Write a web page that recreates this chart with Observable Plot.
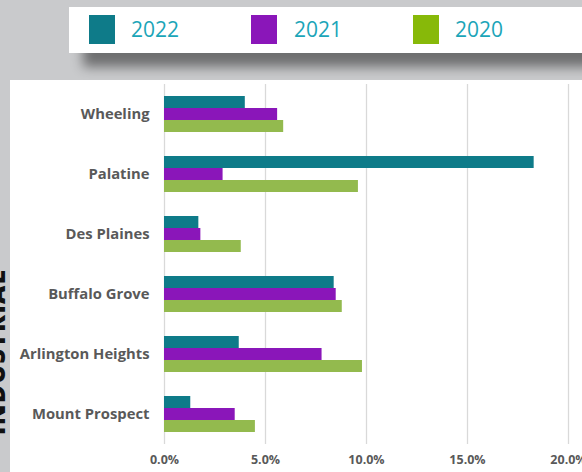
<!DOCTYPE html>
<html>
<head>
<meta charset="utf-8">
<script src="https://cdn.jsdelivr.net/npm/d3@7"></script>
<script src="https://cdn.jsdelivr.net/npm/@observablehq/plot@0.6"></script>
<style>
  html, body { margin: 0; padding: 0; }
  body { width: 582px; height: 472px; background: #c9cacc; position: relative; overflow: hidden; font-family: "Open Sans", sans-serif; }
  #side { position: absolute; left: -5px; top: 352px; transform: translate(-50%, -50%) rotate(-90deg); transform-origin: 50% 50%; font-family: "Open Sans", sans-serif; font-weight: 800; font-size: 25px; line-height: 30px; color: #111; white-space: nowrap; letter-spacing: 1.2px; }
  #legend { position: absolute; left: 69px; top: 7px; width: 540px; height: 46px; background: #fff; box-shadow: 14px 14px 11px rgba(0,0,0,0.45); z-index: 2; }
  .sw { position: absolute; top: 8px; width: 26px; height: 29px; }
  .lab { position: absolute; top: 7px; font-size: 21px; line-height: 30px; color: #1ba5b8; font-weight: 400; }
  #panel { position: absolute; left: 10px; top: 80px; width: 572px; height: 392px; background: #fff; z-index: 1; }
  #panel svg { display: block; }
</style>
</head>
<body>
<div id="side">INDUSTRIAL</div>
<div id="legend"></div>
<div id="panel"></div>
<script>
const cities = ["Wheeling", "Palatine", "Des Plaines", "Buffalo Grove", "Arlington Heights", "Mount Prospect"];
const years = ["2022", "2021", "2020"];
const v2022 = [4.0, 18.3, 1.7, 8.4, 3.7, 1.3];
const v2021 = [5.6, 2.9, 1.8, 8.5, 7.8, 3.5];
const v2020 = [5.9, 9.6, 3.8, 8.8, 9.8, 4.5];
const barColors = ["#0e7b89", "#8a16b9", "#93ba4e"];
const legendColors = ["#0e7b89", "#8a16b9", "#87b909"];
const xTicks = [0, 5, 10, 15, 20];

const series = {"2022": v2022, "2021": v2021, "2020": v2020};
const data = [];
cities.forEach((c, i) => years.forEach(y => data.push({city: c, year: y, value: series[y][i]})));

// legend
const legend = document.getElementById("legend");
const swX = [20, 182, 344];
const labX = [62, 225, 386];
years.forEach((y, i) => {
  const sw = document.createElement("div");
  sw.className = "sw"; sw.style.left = swX[i] + "px"; sw.style.background = legendColors[i];
  legend.appendChild(sw);
  const lb = document.createElement("div");
  lb.className = "lab"; lb.style.left = labX[i] + "px"; lb.textContent = y;
  legend.appendChild(lb);
});

const chart = Plot.plot({
  width: 572,
  height: 392,
  marginLeft: 154,
  marginRight: 14,
  marginTop: 4,
  marginBottom: 28,
  style: {fontFamily: "Open Sans, sans-serif", color: "#595959", background: "transparent"},
  x: {domain: [0, 20]},
  fy: {domain: cities, padding: 0, label: null},
  y: {domain: years, paddingInner: 0, paddingOuter: 0.93, axis: null},
  color: {domain: years, range: barColors},
  marks: [
    Plot.gridX(xTicks, {stroke: "#d9d9d9", strokeOpacity: 1, strokeWidth: 1.3}),
    Plot.barX(data, {x: "value", y: "year", fy: "city", fill: "year", inset: 0}),
    Plot.axisX(xTicks, {tickSize: 0, tickPadding: 11, label: null, fontSize: 12.5, fontWeight: "bold", fill: "#595959", tickFormat: d => d.toFixed(1) + "%"}),
    Plot.axisFy({anchor: "left", tickSize: 0, tickPadding: 15, label: null, fontSize: 14.8, fontWeight: "bold", fill: "#595959"})
  ]
});
document.getElementById("panel").appendChild(chart);
</script>
</body>
</html>
